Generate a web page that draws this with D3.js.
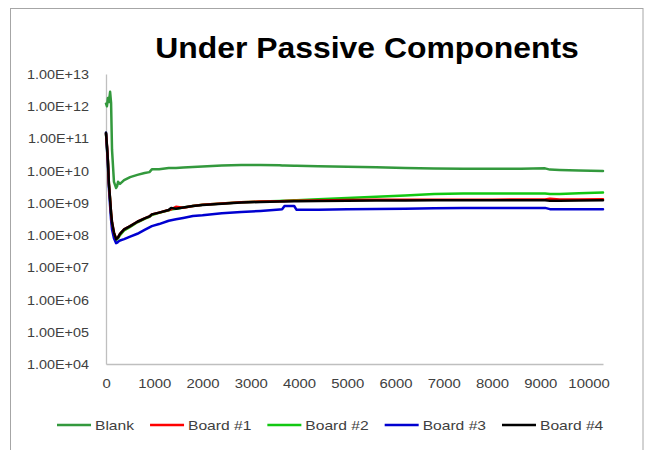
<!DOCTYPE html>
<html>
<head>
<meta charset="utf-8">
<script src="https://cdn.jsdelivr.net/npm/d3@7/dist/d3.min.js"></script>
<style>
  html, body { margin: 0; padding: 0; background: #ffffff; }
  svg { display: block; }
  text { font-family: "Liberation Sans", Arial, sans-serif; }
</style>
</head>
<body>
<svg id="chart" width="645" height="450"></svg>
<script>
// Elapsed time of each reading (shared by every series)
const elapsed = [0, 20, 40, 60, 85, 105, 125, 165, 210, 230, 250, 290, 375, 500, 650, 800, 900, 950,
  1100, 1300, 1350, 1450, 1600, 1800, 2000, 2400, 2800, 3200, 3600, 3650, 3700, 3900, 3950, 4400,
  5000, 5600, 6200, 6800, 7400, 8000, 8600, 9100, 9200, 9400, 9800, 10300];

// Measured resistance per series
const blank = [1.2e12, 1.0e12, 1.8e12, 1.35e12, 2.8e12, 1.3e12, 4.4e10, 4.5e9, 2.9e9, 3.3e9, 4.5e9, 3.9e9,
  5.1e9, 6.3e9, 7.4e9, 8.5e9, 9.0e9, 1.1e10, 1.1e10, 1.2e10, 1.2e10, 1.22e10, 1.25e10, 1.3e10, 1.35e10,
  1.45e10, 1.5e10, 1.5e10, 1.48e10, 1.45e10, 1.45e10, 1.42e10, 1.42e10, 1.38e10, 1.32e10, 1.27e10,
  1.22e10, 1.17e10, 1.15e10, 1.15e10, 1.15e10, 1.18e10, 1.08e10, 1.05e10, 1.02e10, 9.8e9];
const board1 = [1.4e11, 6e10, 2.0e10, 4e9, 1.3e9, 5e8, 2.5e8, 1.2e8, 7.6e7, 8e7, 8.5e7, 1.1e8,
  1.5e8, 1.9e8, 2.6e8, 3.3e8, 3.8e8, 4.4e8, 5.0e8, 6.0e8, 6.3e8, 7.6e8, 7.1e8, 8.0e8, 8.7e8,
  9.6e8, 1.04e9, 1.1e9, 1.13e9, 1.13e9, 1.14e9, 1.16e9, 1.16e9, 1.19e9, 1.22e9, 1.25e9,
  1.25e9, 1.26e9, 1.26e9, 1.26e9, 1.27e9, 1.28e9, 1.35e9, 1.27e9, 1.28e9, 1.3e9];
const board2 = [1.4e11, 5e10, 1.8e10, 4e9, 1.2e9, 4.5e8, 2.2e8, 1.0e8, 7e7, 7.5e7, 8e7, 1.0e8,
  1.4e8, 1.8e8, 2.5e8, 3.2e8, 3.7e8, 4.2e8, 4.9e8, 5.9e8, 6.2e8, 6.6e8, 7.2e8, 8.0e8, 8.7e8,
  9.6e8, 1.05e9, 1.1e9, 1.15e9, 1.16e9, 1.17e9, 1.2e9, 1.2e9, 1.3e9, 1.42e9, 1.55e9,
  1.7e9, 1.9e9, 1.95e9, 1.95e9, 1.95e9, 1.95e9, 1.88e9, 1.9e9, 2.0e9, 2.1e9];
const board3 = [1.5e11, 5e10, 1.5e10, 3e9, 8e8, 3e8, 1.5e8, 8e7, 5.6e7, 5.8e7, 6.2e7, 6.8e7,
  7.5e7, 9e7, 1.1e8, 1.45e8, 1.75e8, 1.9e8, 2.2e8, 2.8e8, 2.9e8, 3.1e8, 3.4e8, 3.9e8, 4.1e8,
  4.8e8, 5.2e8, 5.6e8, 6.2e8, 6.3e8, 8e8, 8e8, 6.1e8, 6.1e8, 6.3e8, 6.5e8,
  6.6e8, 6.8e8, 6.9e8, 6.9e8, 7.0e8, 7.0e8, 6.4e8, 6.3e8, 6.4e8, 6.4e8];
const board4 = [1.5e11, 6e10, 2.0e10, 4e9, 1.3e9, 5e8, 2.5e8, 1.2e8, 7.5e7, 8e7, 8.5e7, 1.1e8,
  1.5e8, 1.9e8, 2.6e8, 3.3e8, 3.8e8, 4.4e8, 5.0e8, 6.0e8, 7.0e8, 6.6e8, 7.2e8, 8.0e8, 8.6e8,
  9.4e8, 1.02e9, 1.07e9, 1.1e9, 1.1e9, 1.1e9, 1.12e9, 1.12e9, 1.14e9, 1.16e9, 1.18e9,
  1.18e9, 1.2e9, 1.2e9, 1.2e9, 1.2e9, 1.2e9, 1.16e9, 1.16e9, 1.18e9, 1.2e9];

const seriesNames = ["Blank", "Board #1", "Board #2", "Board #3", "Board #4"];
const seriesValues = [blank, board1, board2, board3, board4];
const seriesColors = ["#33993d", "#ff0000", "#12c812", "#0000d0", "#000000"];

const xTicks = [0, 1000, 2000, 3000, 4000, 5000, 6000, 7000, 8000, 9000, 10000];
const yTicks = [1e4, 1e5, 1e6, 1e7, 1e8, 1e9, 1e10, 1e11, 1e12, 1e13];

const titleText = "Under Passive Components";

// Layout
const W = 645, H = 450;
const plot = { left: 106, right: 603, top: 74, bottom: 364 };

const svg = d3.select("#chart");
svg.append("rect").attr("width", W).attr("height", H).attr("fill", "#ffffff");

// Chart frame
svg.append("rect")
  .attr("x", 10.5).attr("y", 8.5)
  .attr("width", 632.5).attr("height", 470)
  .attr("fill", "none").attr("stroke", "#a6a6a6").attr("stroke-width", 1);

const x = d3.scaleLinear().domain([0, 10300]).range([plot.left, plot.right]);
const y = d3.scaleLog().domain([1e4, 1e13]).range([plot.bottom, plot.top]);

// Widen glyph runs to the face's proportions; returns the new width of the last node
function stretch(sel, factor) {
  let last = 0;
  sel.each(function () {
    const w = this.getComputedTextLength();
    last = w * factor;
    d3.select(this).attr("textLength", last).attr("lengthAdjust", "spacingAndGlyphs");
  });
  return last;
}

// Title
const title = svg.append("text")
  .attr("x", 367).attr("y", 58)
  .attr("text-anchor", "middle")
  .attr("font-size", 29).attr("font-weight", "bold").attr("fill", "#000000")
  .text(titleText);
stretch(title, 1.1);

// Y axis
const yAxis = d3.axisLeft(y)
  .tickValues(yTicks)
  .tickSize(0)
  .tickPadding(17)
  .tickFormat(d => d.toExponential(2).toUpperCase().replace(/E\+?(-?)(\d)$/, "E+$10$2").replace("E+-", "E-"));
const gy = svg.append("g").attr("transform", `translate(${plot.left},0)`).call(yAxis);
gy.select(".domain").attr("stroke", "#bfbfbf").attr("stroke-width", 1.3);
gy.selectAll("text").attr("font-size", 12.5).attr("fill", "#404040")
  .attr("font-family", "'Liberation Sans', Arial, sans-serif").attr("dy", "0.36em");
stretch(gy.selectAll("text"), 1.15);

// X axis
const xAxis = d3.axisBottom(x).tickValues(xTicks).tickSize(0).tickPadding(19).tickFormat(d3.format("d"));
const gx = svg.append("g").attr("transform", `translate(0,${plot.bottom})`).call(xAxis);
gx.select(".domain").attr("stroke", "#bfbfbf").attr("stroke-width", 1.3);
gx.selectAll("text").attr("font-size", 12.5).attr("fill", "#404040")
  .attr("font-family", "'Liberation Sans', Arial, sans-serif").attr("dy", "0.36em");
stretch(gx.selectAll("text"), 1.19);

// Series lines
const line = d3.line()
  .x((d, i) => x(elapsed[i]))
  .y(d => y(d));

const order = [0, 2, 3, 1, 4];
order.forEach(k => {
  svg.append("path")
    .datum(seriesValues[k])
    .attr("fill", "none")
    .attr("stroke", seriesColors[k])
    .attr("stroke-width", 2.5)
    .attr("stroke-linejoin", "round")
    .attr("stroke-linecap", "round")
    .attr("d", line);
});

// Legend
const legend = svg.append("g");
let lx = 57;
const ly = 425;
seriesNames.forEach((name, k) => {
  legend.append("line")
    .attr("x1", lx).attr("x2", lx + 34).attr("y1", ly).attr("y2", ly)
    .attr("stroke", seriesColors[k]).attr("stroke-width", 2.5);
  const t = legend.append("text")
    .attr("x", lx + 38).attr("y", ly).attr("dy", "0.36em")
    .attr("font-size", 13).attr("fill", "#404040")
    .text(name);
  const w = stretch(t, 1.2);
  lx += 38 + w + 16;
});
</script>
</body>
</html>
